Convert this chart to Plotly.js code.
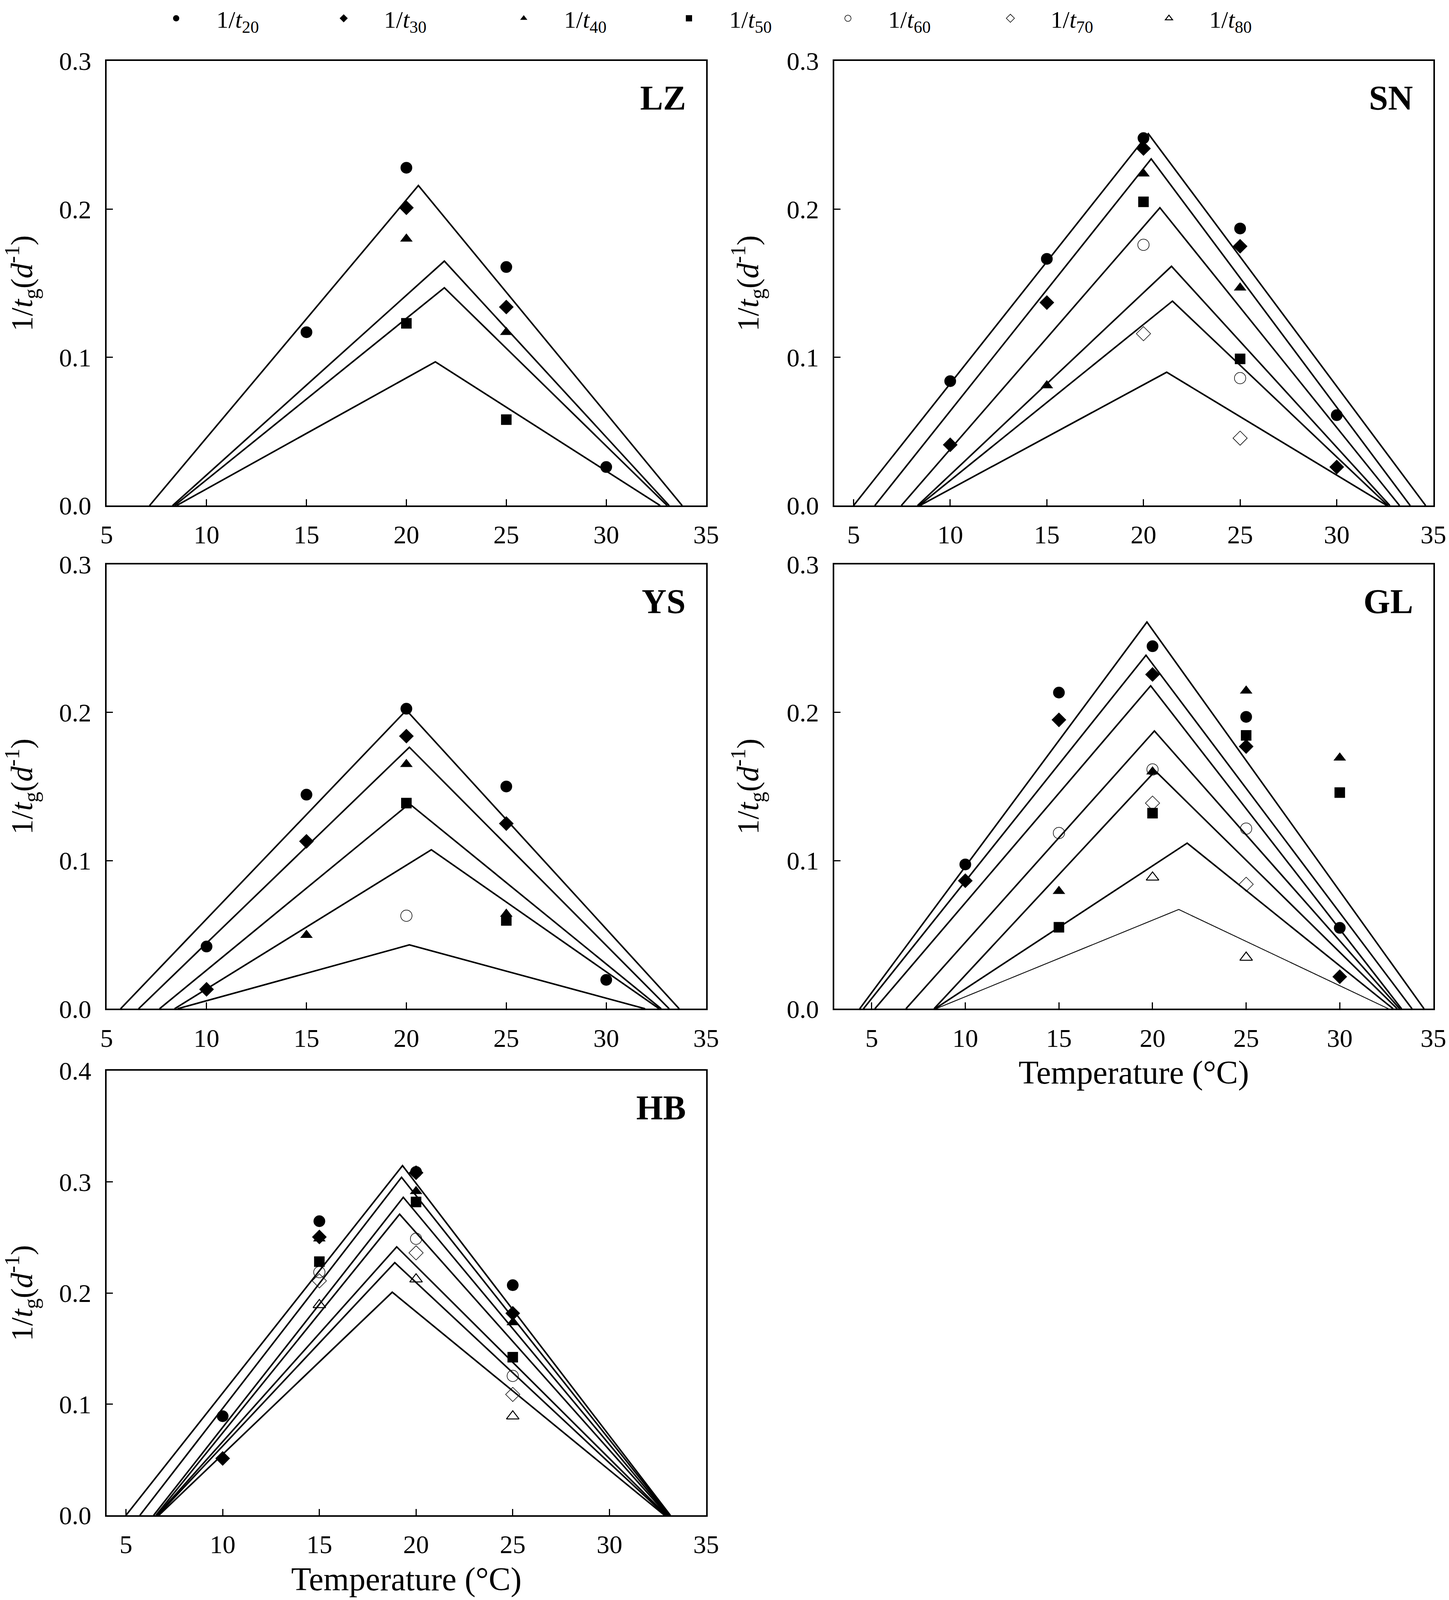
<!DOCTYPE html>
<html>
<head>
<meta charset="utf-8">
<script src="https://cdn.plot.ly/plotly-3.0.1.min.js"></script>
<style>html,body{margin:0;padding:0;background:#fff;}</style>
</head>
<body>
<div id="chart"></div>
<script>
// temperatures (°C) at which development rates were measured
const temps = [10, 15, 20, 25, 30];

// observed rates 1/t (d^-1); null = not measured
// LZ
const lzT20 = [null, 0.117, 0.228, 0.161, 0.026];
const lzT30 = [null, null, 0.201, 0.134, null];
const lzT40 = [null, null, 0.180, 0.117, null];
const lzT50 = [null, null, 0.123, 0.058, null];
// SN
const snT20 = [0.084, 0.1665, 0.248, 0.187, 0.061];
const snT30 = [0.041, 0.137, 0.241, 0.175, 0.026];
const snT40 = [null, 0.081, 0.224, 0.147, null];
const snT50 = [null, null, 0.205, 0.099, null];
const snT60 = [null, null, 0.176, 0.086, null];
const snT70 = [null, null, 0.116, 0.0455, null];
// YS
const ysT20 = [0.042, 0.1445, 0.2025, 0.150, 0.0195];
const ysT30 = [0.0131, 0.113, 0.184, 0.125, null];
const ysT40 = [null, 0.0497, 0.165, 0.064, null];
const ysT50 = [null, null, 0.1388, 0.0596, null];
const ysT60 = [null, null, 0.0628, null, null];
// GL
const glT20 = [0.0974, 0.2134, 0.2447, 0.197, 0.0546];
const glT30 = [0.0864, 0.195, 0.2256, 0.177, 0.0216];
const glT40 = [null, 0.0793, 0.160, 0.2146, 0.1694];
const glT50 = [null, 0.055, 0.132, 0.1845, 0.1459];
const glT60 = [null, 0.1186, 0.1615, 0.1216, null];
const glT70 = [null, null, 0.1388, 0.084, null];
const glT80 = [null, null, 0.0887, 0.0346, null];
// HB
const hbT20 = [0.0892, 0.2647, 0.309, 0.2071, null];
const hbT30 = [0.0512, 0.2505, 0.3083, 0.1818, null];
const hbT40 = [null, 0.249, 0.2916, 0.1736, null];
const hbT50 = [null, 0.2283, 0.282, 0.1423, null];
const hbT60 = [null, 0.2188, 0.2489, 0.1255, null];
const hbT70 = [null, 0.211, 0.2362, 0.1088, null];
const hbT80 = [null, 0.1894, 0.2125, 0.0892, null];

// fitted linear models: lower threshold, optimum, rate at optimum, upper threshold
const lzTmin = [7.15, 8.3, 8.4, 8.5];
const lzTopt = [20.6, 21.9, 21.9, 21.45];
const lzPeak = [0.216, 0.165, 0.147, 0.097];
const lzTmax = [33.8, 33.15, 33.05, 32.7];

const snTmin = [5.0, 6.1, 7.47, 8.31, 8.39, 8.43];
const snTopt = [20.25, 20.4, 20.85, 21.45, 21.5, 21.2];
const snPeak = [0.251, 0.234, 0.201, 0.1615, 0.138, 0.090];
const snTmax = [34.6, 33.8, 33.25, 32.75, 32.65, 32.6];

const ysTmin = [5.7, 6.6, 7.65, 8.4, 8.55];
const ysTopt = [20.0, 20.15, 20.15, 21.25, 20.15];
const ysPeak = [0.2015, 0.1765, 0.1384, 0.1073, 0.0431];
const ysTmax = [33.65, 33.15, 32.75, 32.65, 31.95];

const glTmin = [4.36, 4.56, 5.17, 6.83, 8.33, 8.38, 8.43];
const glTopt = [19.7, 19.65, 19.9, 20.1, 20.15, 21.85, 21.4];
const glPeak = [0.261, 0.2386, 0.218, 0.1875, 0.1605, 0.1118, 0.067];
const glTmax = [34.5, 33.86, 33.3, 33.2, 33.07, 32.85, 32.6];

const hbTmin = [5.0, 5.72, 6.43, 6.55, 6.6, 6.64, 6.7];
const hbTopt = [19.3, 19.25, 19.34, 19.15, 19.0, 18.9, 18.77];
const hbPeak = [0.3147, 0.3042, 0.2862, 0.271, 0.2416, 0.2274, 0.2008];
const hbTmax = [33.15, 33.1, 33.05, 33.0, 32.95, 32.9, 32.85];

const seriesNames = ['1/<i>t</i><sub>20</sub>', '1/<i>t</i><sub>30</sub>', '1/<i>t</i><sub>40</sub>',
  '1/<i>t</i><sub>50</sub>', '1/<i>t</i><sub>60</sub>', '1/<i>t</i><sub>70</sub>', '1/<i>t</i><sub>80</sub>'];
const seriesSymbols = ['circle', 'diamond', 'triangle-up', 'square',
  'circle-open', 'diamond-open', 'triangle-up-open'];
const seriesSizes = [30, 29, 28, 27, 29, 28, 28];
const seriesStroke = [0, 0, 0, 0, 1.5, 1.5, 2.5];
const legendX = [451, 880, 1341, 1764, 2171, 2587, 2993];   // px, symbol centre

const panels = [
  {name: 'LZ', id: '', obs: [lzT20, lzT30, lzT40, lzT50], tmin: lzTmin, topt: lzTopt, peak: lzPeak, tmax: lzTmax},
  {name: 'SN', id: '2', obs: [snT20, snT30, snT40, snT50, snT60, snT70], tmin: snTmin, topt: snTopt, peak: snPeak, tmax: snTmax},
  {name: 'YS', id: '3', obs: [ysT20, ysT30, ysT40, ysT50, ysT60], tmin: ysTmin, topt: ysTopt, peak: ysPeak, tmax: ysTmax},
  {name: 'GL', id: '4', obs: [glT20, glT30, glT40, glT50, glT60, glT70, glT80], tmin: glTmin, topt: glTopt, peak: glPeak, tmax: glTmax},
  {name: 'HB', id: '5', obs: [hbT20, hbT30, hbT40, hbT50, hbT60, hbT70, hbT80], tmin: hbTmin, topt: hbTopt, peak: hbPeak, tmax: hbTmax}
];

// reference geometry is 3710 x 4243; the real window can be shorter, so fit to it
const W0 = 3710, H0 = 4243;
const W = window.innerWidth || W0;
const H = window.innerHeight || H0;
const chartDiv = document.getElementById('chart');
chartDiv.style.width = W + 'px';
chartDiv.style.height = H + 'px';
const FONT = 'Liberation Serif, Times New Roman, serif';

let traces = [];
let shown = {};
panels.forEach(p => {
  // model lines first so the symbols sit on top
  p.tmin.forEach((t0, i) => {
    let thin = (p.name === 'GL' && i === p.tmin.length - 1);
    traces.push({
      x: [t0, p.topt[i], p.tmax[i]],
      y: [0, p.peak[i], 0],
      xaxis: 'x' + p.id, yaxis: 'y' + p.id,
      mode: 'lines', line: {color: '#000', width: thin ? 2.2 : 4},
      showlegend: false, hoverinfo: 'skip'
    });
  });
  p.obs.forEach((vals, s) => {
    let lg = s === 0 ? 'legend' : 'legend' + (s + 1);
    traces.push({
      x: temps, y: vals,
      xaxis: 'x' + p.id, yaxis: 'y' + p.id,
      mode: 'markers', name: seriesNames[s],
      legend: lg,
      showlegend: !shown[s],
      marker: {symbol: seriesSymbols[s], size: seriesSizes[s], color: '#000',
               line: {color: '#000', width: seriesStroke[s]}}
    });
    shown[s] = true;
  });
});

const colX = [[273 / W0, 1808 / W0], [2136 / W0, 3670 / W0]];
const rowY = [[1 - 1335 / H0, 1 - 154 / H0], [1 - 2672 / H0, 1 - 1491 / H0], [1 - 4018 / H0, 1 - 2837 / H0]];
const xRanges = [[5, 35], [4, 35], [5, 35], [3, 35], [4, 35]];
const yRanges = [[0, 0.3], [0, 0.3], [0, 0.3], [0, 0.3], [0, 0.4]];
const cells = [[0, 0], [1, 0], [0, 1], [1, 1], [0, 2]];

let layout = {
  width: W, height: H,
  margin: {l: 0, r: 0, t: 0, b: 0},
  paper_bgcolor: '#fff', plot_bgcolor: '#fff',
  font: {family: FONT, color: '#000'},
  annotations: []
};

const axisBase = {
  showline: true, linecolor: '#000', linewidth: 4, mirror: true,
  ticks: 'inside', ticklen: 16, tickwidth: 3, tickcolor: '#000',
  showgrid: false, zeroline: false, automargin: false,
  tickfont: {family: FONT, size: 66, color: '#000'}
};

panels.forEach((p, k) => {
  let [c, r] = cells[k];
  let xa = Object.assign({}, axisBase, {
    domain: colX[c], range: xRanges[k], anchor: 'y' + p.id,
    tick0: 5, dtick: 5, ticklabelstandoff: 14
  });
  if (p.name === 'GL' || p.name === 'HB') {
    xa.title = {text: 'Temperature (°C)', font: {family: FONT, size: 84}, standoff: 24};
  }
  let ya = Object.assign({}, axisBase, {
    domain: rowY[r], range: yRanges[k], anchor: 'x' + p.id,
    tick0: 0, dtick: 0.1, tickformat: '.1f', ticklabelstandoff: 22,
    title: {text: '1/<i>t</i><sub>g</sub>(<i>d</i><sup>-1</sup>)', font: {family: FONT, size: 78}, standoff: 48}
  });
  layout['xaxis' + p.id] = xa;
  layout['yaxis' + p.id] = ya;
  layout.annotations.push({
    text: '<b>' + p.name + '</b>', showarrow: false,
    xref: 'x' + p.id + ' domain', yref: 'y' + p.id + ' domain',
    x: 1, y: 1, xanchor: 'right', yanchor: 'top', xshift: -50, yshift: -44,
    font: {family: FONT, size: 88, color: '#000'}
  });
});

// one small legend per series, laid out along the top edge
const itemW = 196;
legendX.forEach((px, s) => {
  let key = s === 0 ? 'legend' : 'legend' + (s + 1);
  layout[key] = {
    x: (px - (itemW + 10) / 2) / W0, y: 1 - 40 / H0,
    xanchor: 'left', yanchor: 'middle', orientation: 'h',
    itemwidth: itemW, bgcolor: 'rgba(0,0,0,0)', borderwidth: 0,
    font: {family: FONT, size: 62, color: '#000'}
  };
});

Plotly.newPlot('chart', traces, layout, {staticPlot: true});
</script>
</body>
</html>
